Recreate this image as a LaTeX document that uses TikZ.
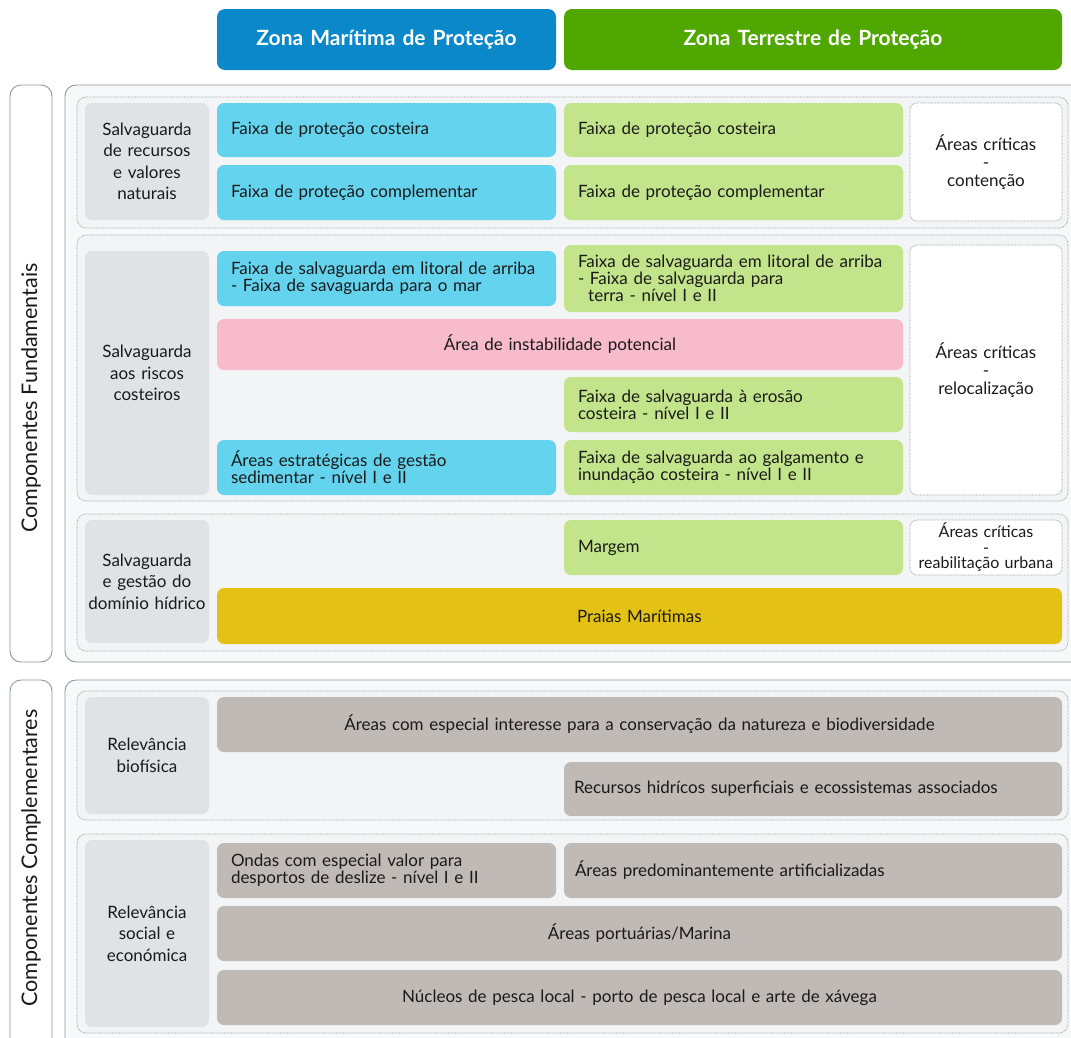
\documentclass[tikz,border=0pt]{standalone}
\usepackage{fontspec}
\setmainfont{Lato}
\definecolor{cblueH}{HTML}{0A88CA}
\definecolor{cgreenH}{HTML}{50A700}
\definecolor{cblue}{HTML}{63D3EE}
\definecolor{cgreen}{HTML}{C2E48A}
\definecolor{cpink}{HTML}{F8BBCB}
\definecolor{cyellow}{HTML}{E4C215}
\definecolor{ctaupe}{HTML}{BFBAB5}
\definecolor{clabel}{HTML}{E1E2E6}
\definecolor{cgroup}{HTML}{F3F4F6}
\definecolor{cframe}{HTML}{F7F8FA}
\definecolor{cframeline}{HTML}{8C97A3}
\definecolor{cdot}{HTML}{9EA3AA}
\definecolor{ctext}{HTML}{1A1A1A}
\newcommand\bx[8][14]{%
 \pgfmathsetmacro\bxw{#6-#4}%
 \pgfmathsetmacro\bxh{#7-#5}%
 \pgfmathsetmacro\bxt{#6-#4-2*#1}%
 \node[#3, inner xsep=#1pt, minimum width=\bxw pt, minimum height=\bxh pt, text width=\bxt pt] (#2) at ({(#4+#6)/2},{(#5+#7)/2}) {#8};}
\tikzset{
 base/.style={rounded corners=7pt, inner ysep=0pt, text=ctext, align=left,
   font=\fontsize{17}{17}\selectfont},
 mar/.style={base, fill=cblue},
 ter/.style={base, fill=cgreen},
 pinkbox/.style={base, fill=cpink, align=center},
 yelbox/.style={base, fill=cyellow},
 taupe/.style={base, fill=ctaupe},
 taupec/.style={taupe, align=center},
 labelbox/.style={base, fill=clabel, align=center, font=\fontsize{17}{21.5}\selectfont},
 critbox/.style={base, fill=white, draw=cdot, dash pattern=on 0.7pt off 0.7pt, line width=0.7pt, align=center, font=\fontsize{17}{18}\selectfont},
 group/.style={rounded corners=9pt, fill=cgroup, draw=cdot, dash pattern=on 0.7pt off 0.7pt, line width=0.7pt},
 frame/.style={rounded corners=11pt, fill=cframe, draw=cframeline, line width=0.9pt},
 sidebox/.style={rounded corners=11pt, fill=white, draw=cframeline, line width=0.9pt},
 header/.style={rounded corners=8pt, text=white, font=\fontsize{21}{24}\selectfont\bfseries, inner sep=0pt, align=center},
 sidelabel/.style={rotate=90, font=\fontsize{21.5}{24}\selectfont, text=ctext}
}
\begin{document}
\begin{tikzpicture}[x=1pt,y=-1pt]
\useasboundingbox (0,0) rectangle (1071,1037);
\clip (0,0) rectangle (1071,1037);
\fill[white] (0,0) rectangle (1071,1037);

% headers
\bx[0]{hmar}{header, fill=cblueH}{217}{9}{556}{70}{Zona Marítima de Proteção}
\bx[0]{hter}{header, fill=cgreenH}{564}{9}{1062}{70}{Zona Terrestre de Proteção}

% ---------- Componentes Fundamentais ----------
\draw[sidebox] (10,85) rectangle (52,662);
\node[sidelabel] (cf) at (31,398) {Componentes Fundamentais};
\draw[frame] (65,85) rectangle (1082,662);

% group 1
\draw[group] (77,97) rectangle (1068,228);
\bx[1]{l1}{labelbox}{85}{103}{209}{220}{Salvaguarda\\de recursos\\e valores\\naturais}
\bx{m11}{mar}{217}{103}{556}{157}{Faixa de proteção costeira}
\bx{m12}{mar}{217}{165}{556}{220}{Faixa de proteção complementar}
\bx{t11}{ter}{564}{103}{903}{157}{Faixa de proteção costeira}
\bx{t12}{ter}{564}{165}{903}{220}{Faixa de proteção complementar}
\bx[2]{c1}{critbox}{910}{103}{1062}{221}{Áreas críticas\\-\\contenção}

% group 2
\draw[group] (77,235) rectangle (1068,501);
\bx[1]{l2}{labelbox}{85}{251}{209}{495}{Salvaguarda\\aos riscos\\costeiros}
\bx{m21}{mar}{217}{251}{556}{306}{Faixa de salvaguarda em litoral de arriba\\- Faixa de savaguarda para o mar}
\bx{t21}{ter}{564}{245}{903}{312}{Faixa de salvaguarda em litoral de arriba\\- Faixa de salvaguarda para\\\hspace*{0.6em}terra - nível I e II}
\bx{p21}{pinkbox}{217}{319}{903}{370}{Área de instabilidade potencial}
\bx{t22}{ter}{564}{377}{903}{432}{Faixa de salvaguarda à erosão\\costeira - nível I e II}
\bx{m22}{mar}{217}{440}{556}{495}{Áreas estratégicas de gestão\\sedimentar - nível I e II}
\bx{t23}{ter}{564}{440}{903}{495}{Faixa de salvaguarda ao galgamento e\\inundação costeira - nível I e II}
\bx[2]{c2}{critbox}{910}{245}{1062}{495}{Áreas críticas\\-\\relocalização}

% group 3
\draw[group] (77,514) rectangle (1068,651);
\bx[1]{l3}{labelbox}{85}{520}{209}{643}{Salvaguarda\\e gestão do\\domínio hídrico}
\bx{t31}{ter}{564}{520}{903}{575}{Margem}
\bx[1]{c3}{critbox, font=\fontsize{16}{15.5}\selectfont}{910}{520}{1062}{575}{Áreas críticas\\-\\reabilitação urbana}
\bx{y31}{yelbox}{217}{588}{1062}{644}{\hspace*{346pt}Praias Marítimas}

% ---------- Componentes Complementares ----------
\draw[sidebox] (10,680) rectangle (52,1050);
\node[sidelabel] (cc) at (31,858) {Componentes Complementares};
\draw[frame] (65,680) rectangle (1082,1050);

% group 4
\draw[group] (77,691) rectangle (1068,820);
\bx[1]{l4}{labelbox}{85}{697}{209}{814}{Relevância\\biofísica}
\bx{b41}{taupec}{217}{697}{1062}{752}{Áreas com especial interesse para a conservação da natureza e biodiversidade}
\bx[10]{b42}{taupe}{564}{762}{1062}{816}{Recursos hidrícos superficiais e ecossistemas associados}

% group 5
\draw[group] (77,834) rectangle (1068,1033);
\bx[1]{l5}{labelbox}{85}{840}{209}{1027}{Relevância\\social e\\económica}
\bx{b51}{taupe}{217}{843}{556}{898}{Ondas com especial valor para\\desportos de deslize - nível I e II}
\bx[11]{b52}{taupe}{564}{843}{1062}{898}{Áreas predominantemente artificializadas}
\bx{b53}{taupec}{217}{906}{1062}{961}{Áreas portuárias/Marina}
\bx{b54}{taupec}{217}{970}{1062}{1025}{Núcleos de pesca local - porto de pesca local e arte de xávega}
\end{tikzpicture}
\end{document}
